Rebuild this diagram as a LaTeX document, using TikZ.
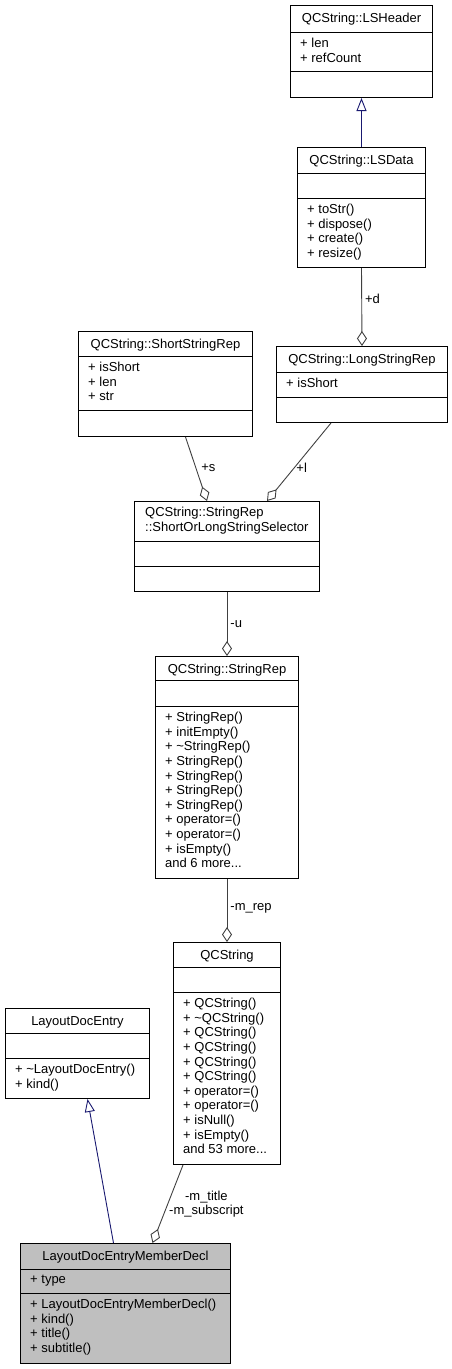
\documentclass[tikz,border=0pt]{standalone}
\usepackage{fontspec}
\setmainfont{Liberation Sans}
\usepackage{tikz}
\usetikzlibrary{arrows.meta, positioning}
\definecolor{navy}{HTML}{191970}
\definecolor{edgegray}{HTML}{404040}
\definecolor{selgray}{HTML}{BFBFBF}
\newcommand{\classfont}{\fontsize{13}{14.6}\selectfont}
\newcommand{\classrule}[2]{\draw[line width=1pt] ([yshift=-#2pt]#1.north west) -- ([yshift=-#2pt]#1.north east);}
\tikzstyle{classbox} = [rectangle, draw=black, line width=1pt, fill=white, anchor=north west, inner sep=0pt]
\tikzstyle{classtitle} = [anchor=base, inner sep=0pt, font=\classfont]
\tikzstyle{members} = [anchor=north west, inner sep=0pt, align=left, font=\classfont]
\tikzstyle{inherit} = [draw=navy, line width=0.9pt, -{Triangle[open, length=13pt, width=10pt]}]
\tikzstyle{aggr} = [draw=edgegray, line width=0.9pt, -{Diamond[open, length=15pt, width=10pt]}]
\tikzstyle{edgelabel} = [font=\classfont, inner sep=3pt]

\begin{document}
\begin{tikzpicture}[x=1pt, y=-1pt]
    \useasboundingbox (0,0) rectangle (452,1369);

    % QCString::LSHeader
    \node[classbox, minimum width=142pt, minimum height=92pt] (lsheader) at (290,5) {};
    \classrule{lsheader}{27}
    \classrule{lsheader}{66}
    \node[classtitle] at ([yshift=-17pt]lsheader.north) {QCString::LSHeader};
    \node[members] at ([xshift=10pt, yshift=-33pt]lsheader.north west) {+ len\\+ refCount};

    % QCString::LSData
    \node[classbox, minimum width=128pt, minimum height=120pt] (lsdata) at (297,147) {};
    \classrule{lsdata}{26}
    \classrule{lsdata}{51}
    \node[classtitle] at ([yshift=-17pt]lsdata.north) {QCString::LSData};
    \node[members] at ([xshift=10pt, yshift=-57pt]lsdata.north west) {+ toStr()\\+ dispose()\\+ create()\\+ resize()};

    % QCString::ShortStringRep
    \node[classbox, minimum width=174pt, minimum height=105pt] (shortrep) at (78,331) {};
    \classrule{shortrep}{25}
    \classrule{shortrep}{79}
    \node[classtitle] at ([yshift=-17pt]shortrep.north) {QCString::ShortStringRep};
    \node[members] at ([xshift=10pt, yshift=-31pt]shortrep.north west) {+ isShort\\+ len\\+ str};

    % QCString::LongStringRep
    \node[classbox, minimum width=171pt, minimum height=76pt] (longrep) at (276,346) {};
    \classrule{longrep}{26}
    \classrule{longrep}{51}
    \node[classtitle] at ([yshift=-17pt]longrep.north) {QCString::LongStringRep};
    \node[members] at ([xshift=10pt, yshift=-32pt]longrep.north west) {+ isShort};

    % QCString::StringRep::ShortOrLongStringSelector
    \node[classbox, minimum width=185pt, minimum height=90pt] (selector) at (134,501) {};
    \classrule{selector}{40}
    \classrule{selector}{65}
    \node[members] at ([xshift=11pt, yshift=-6pt]selector.north west) {QCString::StringRep\\::ShortOrLongStringSelector};

    % QCString::StringRep
    \node[classbox, minimum width=143pt, minimum height=222pt] (stringrep) at (155,656) {};
    \classrule{stringrep}{24}
    \classrule{stringrep}{50}
    \node[classtitle] at ([yshift=-17pt]stringrep.north) {QCString::StringRep};
    \node[members] at ([xshift=10pt, yshift=-56pt]stringrep.north west) {+ StringRep()\\+ initEmpty()\\+ \textasciitilde StringRep()\\+ StringRep()\\+ StringRep()\\+ StringRep()\\+ StringRep()\\+ operator=()\\+ operator=()\\+ isEmpty()\\and 6 more...};

    % QCString
    \node[classbox, minimum width=107pt, minimum height=222pt] (qcstring) at (173,942) {};
    \classrule{qcstring}{25}
    \classrule{qcstring}{50}
    \node[classtitle] at ([yshift=-17pt]qcstring.north) {QCString};
    \node[members] at ([xshift=10pt, yshift=-56pt]qcstring.north west) {+ QCString()\\+ \textasciitilde QCString()\\+ QCString()\\+ QCString()\\+ QCString()\\+ QCString()\\+ operator=()\\+ operator=()\\+ isNull()\\+ isEmpty()\\and 53 more...};

    % LayoutDocEntry
    \node[classbox, minimum width=144pt, minimum height=90pt] (layoutentry) at (5,1008) {};
    \classrule{layoutentry}{25}
    \classrule{layoutentry}{50}
    \node[classtitle] at ([yshift=-17pt]layoutentry.north) {LayoutDocEntry};
    \node[members] at ([xshift=10pt, yshift=-56pt]layoutentry.north west) {+ \textasciitilde LayoutDocEntry()\\+ kind()};

    % LayoutDocEntryMemberDecl
    \node[classbox, fill=selgray, minimum width=210pt, minimum height=120pt] (memberdecl) at (20,1243) {};
    \classrule{memberdecl}{26}
    \classrule{memberdecl}{50}
    \node[classtitle] at ([yshift=-17pt]memberdecl.north) {LayoutDocEntryMemberDecl};
    \node[members] at ([xshift=10pt, yshift=-32pt]memberdecl.north west) {+ type};
    \node[members] at ([xshift=10pt, yshift=-56pt]memberdecl.north west) {+ LayoutDocEntryMemberDecl()\\+ kind()\\+ title()\\+ subtitle()};

    \draw[inherit] (lsdata.north) -- (lsheader.south);
    \draw[aggr] (lsdata.south) -- node[edgelabel, pos=0.4, right] {+d} (longrep.north);
    \draw[aggr] ([xshift=20pt]shortrep.south) -- node[edgelabel, pos=0.48, right, inner sep=5pt] {+s} ([xshift=-20pt]selector.north);
    \draw[aggr] ([xshift=-31pt]longrep.south) -- node[edgelabel, pos=0.57, right, inner sep=1.5pt] {+l} ([xshift=40pt]selector.north);
    \draw[aggr] (selector.south) -- node[edgelabel, pos=0.5, right] {-u} (stringrep.north);
    \draw[aggr] (stringrep.south) -- node[edgelabel, pos=0.47, right] {-m\_rep} (qcstring.north);
    \draw[aggr] ([xshift=-44pt]qcstring.south) -- node[edgelabel, pos=0.5, right, inner sep=1pt, align=center] {-m\_title\\-m\_subscript} ([xshift=27pt]memberdecl.north);
    \draw[inherit] ([xshift=-12pt]memberdecl.north) -- ([xshift=10pt]layoutentry.south);
\end{tikzpicture}
\end{document}
